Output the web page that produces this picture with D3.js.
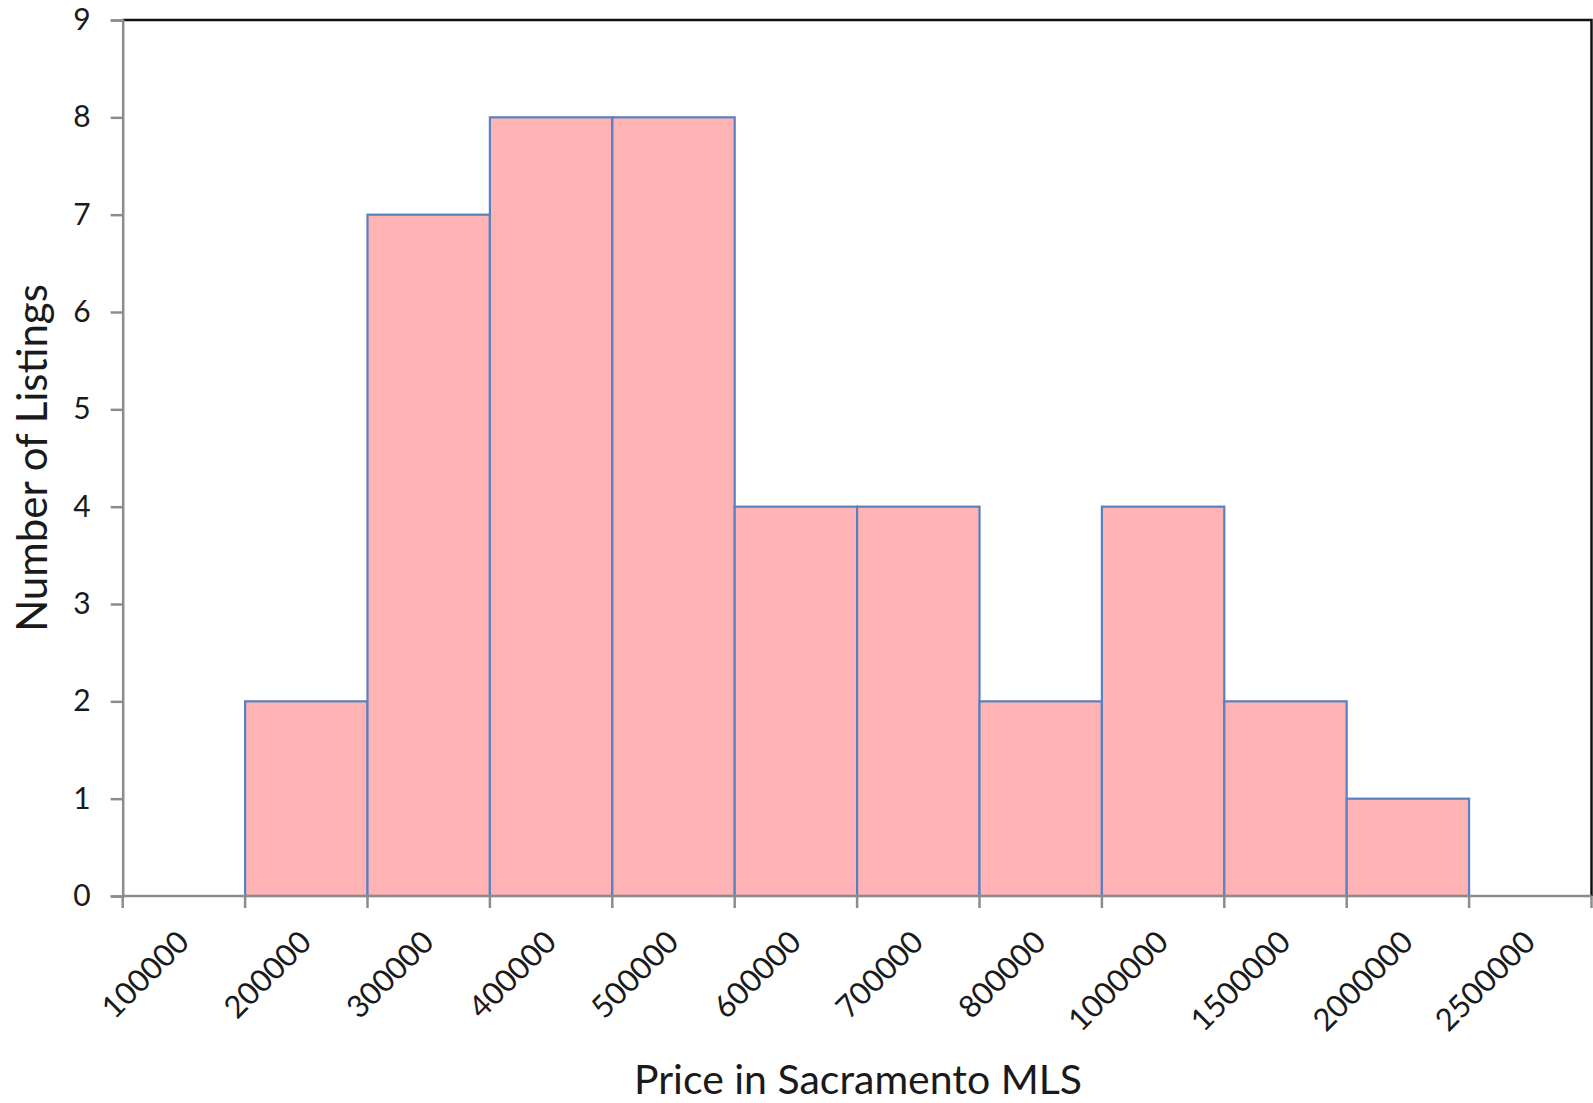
<!DOCTYPE html>
<html>
<head>
<meta charset="utf-8">
<script src="https://cdn.jsdelivr.net/npm/d3@7"></script>
<style>
  html, body { margin: 0; padding: 0; background: #fff; }
  svg { display: block; }
  text { font-family: Lato, "Open Sans", sans-serif; fill: #1a1a1a; }
</style>
</head>
<body>
<svg id="chart" width="1593" height="1103"></svg>
<script>
// Price bins (Sacramento MLS) and listing counts per bin
const bins = ["100000", "200000", "300000", "400000", "500000", "600000",
              "700000", "800000", "1000000", "1500000", "2000000", "2500000"];
const counts = [0, 2, 7, 8, 8, 4, 4, 2, 4, 2, 1, 0];
const yTicks = [0, 1, 2, 3, 4, 5, 6, 7, 8, 9];

const xTitle = "Price in Sacramento MLS";
const yTitle = "Number of Listings";

const svg = d3.select("#chart");
const plot = { left: 122.7, right: 1591.5, top: 20, bottom: 896 };

const x = d3.scaleBand().domain(bins).range([plot.left, plot.right]).padding(0);
const y = d3.scaleLinear().domain([0, 9]).range([plot.bottom, plot.top]);

// Bars
svg.append("g")
  .selectAll("rect")
  .data(bins.map((b, i) => ({ bin: b, count: counts[i] })).filter(d => d.count > 0))
  .join("rect")
  .attr("x", d => x(d.bin))
  .attr("y", d => y(d.count))
  .attr("width", x.bandwidth())
  .attr("height", d => y(0) - y(d.count))
  .attr("fill", "#FFB3B4")
  .attr("stroke", "#5A80C0")
  .attr("stroke-width", 2.2);

// Plot frame: top and right edges in black
svg.append("path")
  .attr("d", `M${plot.left},${plot.top}H${plot.right}V${plot.bottom}`)
  .attr("fill", "none")
  .attr("stroke", "#111")
  .attr("stroke-width", 2.5);

// Y axis
const yAxis = svg.append("g")
  .attr("transform", `translate(${plot.left},0)`)
  .call(d3.axisLeft(y).tickValues(yTicks).tickFormat(d3.format("d")).tickSize(12).tickPadding(20));
yAxis.select(".domain").attr("stroke", "#8c8c8c").attr("stroke-width", 2.5);
yAxis.selectAll(".tick line").attr("stroke", "#8c8c8c").attr("stroke-width", 2.5);
yAxis.selectAll(".tick text")
  .attr("font-size", 30)
  .attr("font-family", "Lato, 'Open Sans', sans-serif")
  .attr("fill", "#1a1a1a");

// X axis: ticks at band boundaries, labels centred on bands
const xAxisG = svg.append("g").attr("transform", `translate(0,${plot.bottom})`);
xAxisG.append("line")
  .attr("x1", plot.left).attr("x2", plot.right)
  .attr("y1", 0).attr("y2", 0)
  .attr("stroke", "#8c8c8c").attr("stroke-width", 2.5);
const edges = bins.map(b => x(b)).concat([x(bins[bins.length - 1]) + x.bandwidth()]);
xAxisG.selectAll("line.tk")
  .data(edges)
  .join("line")
  .attr("class", "tk")
  .attr("x1", d => d).attr("x2", d => d)
  .attr("y1", 0).attr("y2", 12)
  .attr("stroke", "#8c8c8c").attr("stroke-width", 2.5);
xAxisG.selectAll("text")
  .data(bins)
  .join("text")
  .attr("transform", d => `translate(${x(d) + x.bandwidth() / 2 + 7},48) rotate(-45)`)
  .attr("text-anchor", "end")
  .attr("font-size", 31)
  .text(d => d);

// Axis titles
svg.append("text")
  .attr("x", 858)
  .attr("y", 1094)
  .attr("text-anchor", "middle")
  .attr("font-size", 41)
  .text(xTitle);

svg.append("text")
  .attr("transform", `translate(47,${(plot.top + plot.bottom) / 2}) rotate(-90)`)
  .attr("text-anchor", "middle")
  .attr("font-size", 42)
  .text(yTitle);
</script>
</body>
</html>
